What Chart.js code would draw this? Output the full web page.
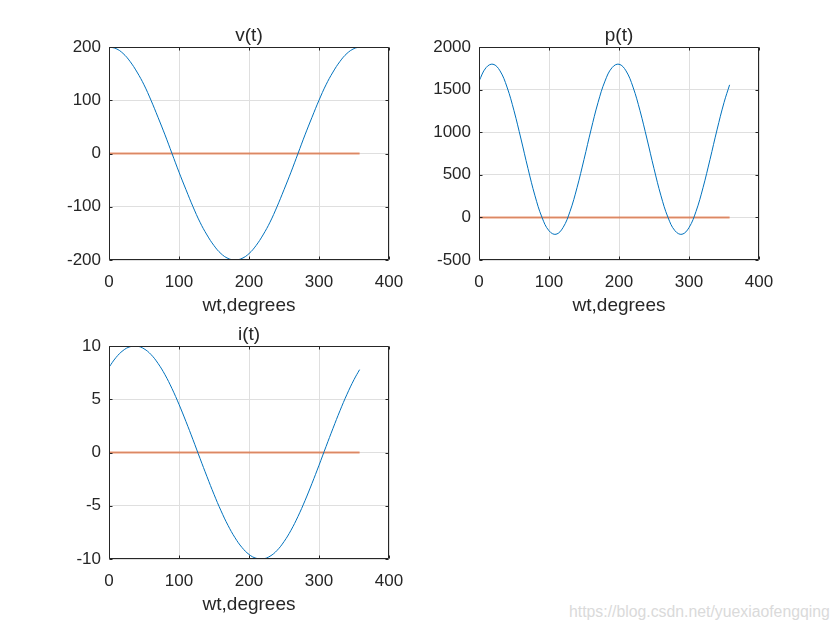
<!DOCTYPE html>
<html>
<head>
<meta charset="utf-8">
<script src="https://cdn.jsdelivr.net/npm/chart.js@4.4.0/dist/chart.umd.min.js"></script>
<style>
  html, body { margin: 0; padding: 0; background: #ffffff; }
  #fig { position: relative; width: 840px; height: 630px; overflow: hidden; background: #ffffff; }
  .cv { position: absolute; width: 420px; height: 320px; }
  #wm { position: absolute; left: 569px; top: 603px; font-family: "Liberation Sans", Arial, sans-serif;
        font-size: 15.8px; color: #dadada; white-space: nowrap; }
</style>
</head>
<body>
<div id="fig">
  <div class="cv" style="left:0px;top:0px;"><canvas id="c1" width="420" height="320"></canvas></div>
  <div class="cv" style="left:370px;top:0px;"><canvas id="c2" width="420" height="320"></canvas></div>
  <div class="cv" style="left:0px;top:299px;"><canvas id="c3" width="420" height="320"></canvas></div>
  <div id="wm">https://blog.csdn.net/yuexiaofengqing</div>
</div>
<script>
// ---- data ----
const wt = [0,10,20,30,40,50,60,70,80,90,100,110,120,130,140,150,160,170,180,
            190,200,210,220,230,240,250,260,270,280,290,300,310,320,330,340,350,358];
const vT = [200,197,188,173,153,129,100,68,35,0,-35,-68,-100,-129,-153,-173,-188,-197,-200,
            -197,-188,-173,-153,-129,-100,-68,-35,0,35,68,100,129,153,173,188,197,200];
const pT = [1600,1757,1798,1720,1530,1252,920,573,253,0,-157,-198,-120,70,348,680,1027,1347,1600,
            1757,1798,1720,1530,1252,920,573,253,0,-157,-198,-120,70,348,680,1027,1347,1556];
const iT = [8.0,8.92,9.57,9.93,9.99,9.74,9.20,8.37,7.30,6.0,4.52,2.90,1.20,-0.55,-2.27,-3.93,-5.47,-6.84,-8.0,
            -8.92,-9.57,-9.93,-9.99,-9.74,-9.20,-8.37,-7.30,-6.0,-4.52,-2.90,-1.20,0.55,2.27,3.93,5.47,6.84,7.78];
const zeroT = [0,0,0,0,0,0,0,0,0,0,0,0,0,0,0,0,0,0,0,0,0,0,0,0,0,0,0,0,0,0,0,0,0,0,0,0,0];
const xTicks = [0,100,200,300,400];
const vTicks = [-200,-100,0,100,200];
const pTicks = [-500,0,500,1000,1500,2000];
const iTicks = [-10,-5,0,5,10];
const titles = ['v(t)','p(t)','i(t)'];
const xLabel = 'wt,degrees';

const TXT = '#262626';
const GRID = '#dfdfdf';
const FONT = '"Liberation Sans", Arial, Helvetica, sans-serif';

const boxPlugin = {
  id: 'box',
  afterDraw(chart) {
    const ctx = chart.ctx, a = chart.chartArea;
    const xs = chart.scales.x, ys = chart.scales.y;
    const L = Math.round(a.left) + 0.5, R = Math.round(a.right) - 0.5;
    const T = Math.round(a.top) + 0.5, B = Math.round(a.bottom) - 0.5;
    ctx.save();
    ctx.strokeStyle = TXT;
    ctx.lineWidth = 1;
    ctx.beginPath();
    ctx.rect(L, T, R - L, B - T);
    const tl = 3;
    xs.ticks.forEach(t => {
      const px = Math.round(xs.getPixelForValue(t.value)) + 0.5;
      ctx.moveTo(px, B); ctx.lineTo(px, B - tl);
      ctx.moveTo(px, T); ctx.lineTo(px, T + tl);
    });
    ys.ticks.forEach(t => {
      const py = Math.round(ys.getPixelForValue(t.value)) + 0.5;
      ctx.moveTo(L, py); ctx.lineTo(L + tl, py);
      ctx.moveTo(R, py); ctx.lineTo(R - tl, py);
    });
    ctx.stroke();
    ctx.restore();
  }
};

function pts(ys) { return wt.map((x, k) => ({ x: x, y: ys[k] })); }

function makeChart(id, title, ys, ticks) {
  const ymin = ticks[0], ymax = ticks[ticks.length - 1];
  return new Chart(document.getElementById(id), {
    type: 'line',
    data: {
      datasets: [
        { data: pts(ys), borderColor: '#0072BD', borderWidth: 1, pointRadius: 0, tension: 0.4, fill: false },
        { data: pts(zeroT), borderColor: 'rgba(217,83,25,0.62)', borderWidth: 2, pointRadius: 0, tension: 0, fill: false }
      ]
    },
    options: {
      responsive: false,
      animation: false,
      events: [],
      layout: { padding: { left: 0, right: 31, top: 0, bottom: 0 } },
      plugins: {
        legend: { display: false },
        tooltip: { enabled: false },
        title: { display: false }
      },
      scales: {
        x: {
          type: 'linear', min: xTicks[0], max: xTicks[xTicks.length - 1],
          afterBuildTicks: s => { s.ticks = xTicks.map(v => ({ value: v })); },
          afterFit: s => { s.height = 60; },
          ticks: { color: TXT, font: { family: FONT, size: 17 }, padding: 12, maxRotation: 0,
                   callback: v => String(v) },
          grid: { color: GRID, drawTicks: false },
          border: { display: false },
          title: { display: true, text: xLabel, color: TXT,
                   font: { family: FONT, size: 19, lineHeight: 1.2 }, padding: { top: 0, bottom: 3 } }
        },
        xTop: {
          type: 'linear', position: 'top', display: true, min: xTicks[0], max: xTicks[xTicks.length - 1],
          afterFit: s => { s.height = 47; },
          ticks: { display: false },
          grid: { display: false, drawTicks: false },
          border: { display: false },
          title: { display: true, text: title, color: TXT,
                   font: { family: FONT, size: 19, lineHeight: 1.2 }, padding: { top: 24.5, bottom: 0 } }
        },
        y: {
          type: 'linear', min: ymin, max: ymax,
          afterBuildTicks: s => { s.ticks = ticks.map(v => ({ value: v })); },
          afterFit: s => { s.width = 109; },
          ticks: { color: TXT, font: { family: FONT, size: 17 }, padding: 8,
                   callback: v => String(v) },
          grid: { color: GRID, drawTicks: false },
          border: { display: false }
        }
      }
    },
    plugins: [boxPlugin]
  });
}

makeChart('c1', titles[0], vT, vTicks);
makeChart('c2', titles[1], pT, pTicks);
makeChart('c3', titles[2], iT, iTicks);
</script>
</body>
</html>
